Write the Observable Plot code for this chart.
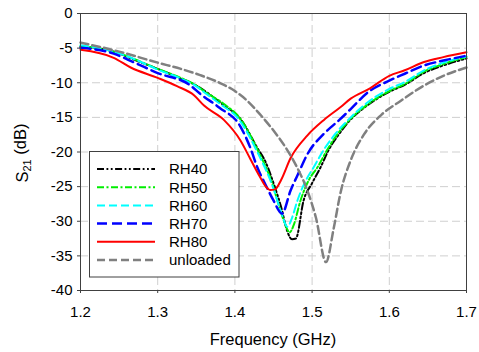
<!DOCTYPE html>
<html><head><meta charset="utf-8">
<script src="https://cdn.jsdelivr.net/npm/d3@7"></script>
<script src="https://cdn.jsdelivr.net/npm/@observablehq/plot@0.6"></script>
<style>body{margin:0;background:#fff}</style>
</head><body><div id="chart"></div>
<script>
// ---- data ----
const xTicks = [1.2, 1.3, 1.4, 1.5, 1.6, 1.7];
const yTicks = [-40, -35, -30, -25, -20, -15, -10, -5, 0];
const seriesNames = ["RH40", "RH50", "RH60", "RH70", "RH80", "unloaded"];

const freqRH40 = [1.2,1.243,1.27,1.3,1.33,1.35,1.365,1.385,1.407,1.429,1.44,1.45,1.46,1.468,1.474,1.479,1.489,1.5,1.511,1.522,1.535,1.55,1.57,1.6,1.62,1.645,1.67,1.7];
const s21RH40  = [-4.8,-5.5,-6.7,-8.0,-9.4,-10.4,-11.5,-13.2,-15.2,-19.4,-21.5,-24.5,-28.0,-31.5,-32.6,-32.5,-27.0,-24.5,-22.2,-19.6,-17.4,-15.3,-13.4,-11.3,-10.3,-8.6,-7.5,-6.5];

const freqRH50 = [1.2,1.243,1.27,1.3,1.33,1.347,1.364,1.385,1.407,1.429,1.45,1.455,1.463,1.471,1.476,1.485,1.496,1.507,1.52,1.533,1.55,1.57,1.6,1.62,1.645,1.67,1.7];
const s21RH50  = [-4.7,-5.5,-6.6,-8.0,-9.3,-10.2,-11.5,-13.0,-15.2,-19.6,-25.1,-27.0,-29.8,-31.6,-30.6,-27.0,-24.0,-22.2,-19.6,-17.4,-15.2,-13.3,-11.2,-10.2,-8.4,-7.3,-6.3];

const freqRH60 = [1.2,1.243,1.27,1.3,1.33,1.347,1.364,1.385,1.403,1.429,1.45,1.46,1.468,1.474,1.481,1.491,1.502,1.515,1.53,1.55,1.57,1.6,1.62,1.645,1.67,1.7];
const s21RH60  = [-4.6,-5.5,-6.6,-8.1,-9.4,-10.3,-11.7,-13.4,-15.0,-20.0,-25.3,-28.7,-30.8,-29.5,-27.0,-24.3,-22.2,-19.7,-17.4,-15.0,-13.0,-10.9,-9.9,-8.2,-7.1,-6.2];

const freqRH70 = [1.2,1.243,1.27,1.3,1.3425,1.355,1.38,1.407,1.42,1.429,1.44,1.45,1.461,1.472,1.483,1.494,1.515,1.535,1.55,1.572,1.6,1.62,1.645,1.67,1.7];
const s21RH70  = [-4.95,-5.8,-7.1,-8.6,-10.4,-11.6,-13.6,-16.3,-19.4,-22.2,-24.8,-27.0,-28.9,-25.6,-22.9,-20.3,-17.4,-15.4,-13.8,-11.4,-9.7,-8.7,-7.5,-6.8,-6.1];

const freqRH80 = [1.2,1.243,1.265,1.3,1.325,1.347,1.36,1.386,1.407,1.42,1.432,1.44,1.446,1.452,1.46,1.472,1.494,1.515,1.537,1.55,1.575,1.6,1.62,1.645,1.67,1.7];
const s21RH80  = [-5.25,-6.4,-7.8,-9.3,-10.5,-11.8,-13.3,-15.4,-18.3,-21.0,-23.5,-25.0,-25.5,-25.4,-24.0,-20.9,-17.6,-15.4,-13.5,-12.3,-10.8,-9.0,-8.2,-7.0,-6.3,-5.6];

const freqUnloaded = [1.2,1.25,1.3,1.33,1.355,1.38,1.4,1.416,1.432,1.45,1.466,1.48,1.494,1.505,1.518,1.528,1.537,1.55,1.567,1.59,1.615,1.645,1.67,1.7];
const s21Unloaded  = [-4.2,-5.5,-7.1,-8.0,-8.9,-10.0,-11.2,-12.6,-14.5,-16.9,-19.4,-22.1,-25.6,-29.5,-35.9,-31.0,-25.8,-21.2,-17.5,-14.6,-12.6,-10.4,-9.0,-7.8];

// ---- styles ----
const styles = {
  RH40: {stroke: "#000000", strokeWidth: 2, strokeDasharray: "7,2.5,1.8,2.5,1.8,2.5"},
  RH50: {stroke: "#00ee00", strokeWidth: 2, strokeDasharray: "7,2.5,2,2.5"},
  RH60: {stroke: "#00ffff", strokeWidth: 2, strokeDasharray: "8,4"},
  RH70: {stroke: "#0000ff", strokeWidth: 2.5, strokeDasharray: "10,5"},
  RH80: {stroke: "#ff0000", strokeWidth: 2, strokeDasharray: null},
  unloaded: {stroke: "#808080", strokeWidth: 2.5, strokeDasharray: "8,4"}
};

const freqs = {RH40: freqRH40, RH50: freqRH50, RH60: freqRH60, RH70: freqRH70, RH80: freqRH80, unloaded: freqUnloaded};
const vals  = {RH40: s21RH40, RH50: s21RH50, RH60: s21RH60, RH70: s21RH70, RH80: s21RH80, unloaded: s21Unloaded};

const tables = {};
for (const s of seriesNames) tables[s] = freqs[s].map((f, i) => ({f, v: vals[s][i]}));

const gridStyle = {stroke: "#cfcfcf", strokeOpacity: 1, strokeDasharray: "8,4", strokeWidth: 1};

const plot = Plot.plot({
  width: 479, height: 352,
  marginLeft: 80, marginRight: 13, marginTop: 13, marginBottom: 62,
  style: {fontFamily: "'Liberation Sans', Arial, sans-serif", fontSize: "15px", background: "#fff", color: "#000", overflow: "visible"},
  x: {domain: [1.2, 1.7]},
  y: {domain: [-40, 0]},
  marks: [
    Plot.gridX(xTicks.slice(1, -1), gridStyle),
    Plot.gridY(yTicks.slice(1, -1), gridStyle),
    ...seriesNames.map(s => Plot.line(tables[s], {x: "f", y: "v", ...styles[s], curve: "monotone-x", strokeLinejoin: "round"})),
    Plot.frame({stroke: "#404040", strokeWidth: 1}),
    Plot.axisX({ticks: xTicks, tickSize: 3, tickPadding: 13, tickFormat: d => d.toFixed(1), label: null, fontSize: 15, stroke: "#404040"}),
    Plot.axisY({ticks: yTicks, tickSize: 3, tickPadding: 5, tickFormat: d => String(d).replace("\u2212", "-"), label: null, fontSize: 15, stroke: "#404040"})
  ]
});

document.getElementById("chart").appendChild(plot);

// ---- labels and legend ----
const svg = d3.select(plot);
const ff = "'Liberation Sans', Arial, sans-serif";

svg.append("text")
  .attr("x", 273).attr("y", 345)
  .attr("text-anchor", "middle")
  .style("font-family", ff).style("font-size", "16.5px").attr("fill", "#000")
  .text("Frequency (GHz)");

const yl = svg.append("text")
  .attr("transform", "translate(28,153) rotate(-90)")
  .attr("text-anchor", "middle")
  .style("font-family", ff).style("font-size", "16.5px").attr("fill", "#000");
yl.append("tspan").text("S");
yl.append("tspan").attr("dy", "0.3em").style("font-size", "11px").text("21");
yl.append("tspan").attr("dy", "-0.3em").text("\u00a0(dB)");

const lg = svg.append("g");
lg.append("rect")
  .attr("x", 89.5).attr("y", 151.5).attr("width", 149.5).attr("height", 125.5)
  .attr("fill", "#fff").attr("stroke", "#404040").attr("stroke-width", 1);
seriesNames.forEach((s, i) => {
  const yy = 169 + i * 18.2;
  const st = styles[s];
  lg.append("line")
    .attr("x1", 97).attr("x2", 155).attr("y1", yy).attr("y2", yy)
    .attr("stroke", st.stroke).attr("stroke-width", st.strokeWidth)
    .attr("stroke-dasharray", st.strokeDasharray);
  lg.append("text")
    .attr("x", 169).attr("y", yy).attr("dy", "0.36em")
    .attr("text-anchor", "start")
    .style("font-family", ff).style("font-size", "15px").attr("fill", "#000")
    .text(s);
});
</script>
</body></html>
